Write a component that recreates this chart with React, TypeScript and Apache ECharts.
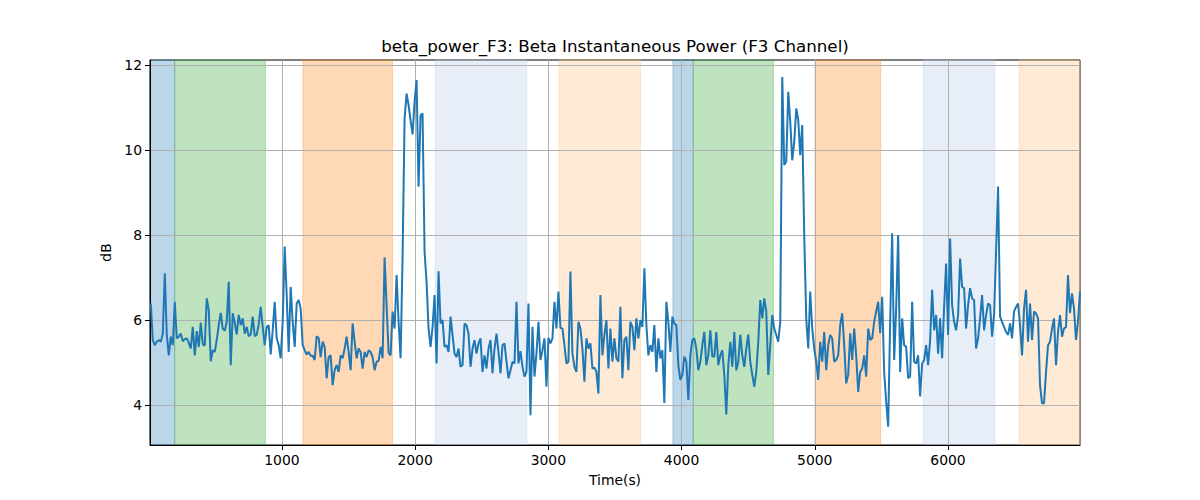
import React, { useEffect, useRef } from 'react';
import * as echarts from 'echarts';

// sampling grid of the beta power trace (seconds)
const SAMPLE_START = 16;
const SAMPLE_STEP = 15;

// beta power in dB, read left to right in chunks
const powerA = [6.39, 5.53, 5.41, 5.49, 5.53, 5.49, 5.68, 7.1, 5.65, 5.17, 5.61, 5.41, 6.43, 5.57, 5.61, 5.68, 5.5, 5.55, 5.57, 5.47, 5.33, 5.84, 5.17, 5.74, 5.37, 5.94, 5.43, 5.4, 6.51, 6.24, 5.03, 5.29, 5.25, 5.53, 5.88, 6.17, 5.8, 5.75, 5.96, 6.9, 4.94, 6.16, 5.94, 5.66, 6.12, 5.88, 6.04, 5.68, 5.84, 5.62, 5.66, 6.08, 5.62];
const powerB = [5.65, 5.9, 6.31, 5.84, 5.41, 5.84, 5.88, 5.19, 5.76, 6.43, 5.57, 5.41, 5.1, 5.96, 7.73, 6.59, 5.25, 6.78, 5.96, 5.37, 6.39, 6.47, 6.27, 5.41, 5.29, 5.19, 5.25, 5.16, 5.16, 5.06, 5.62, 5.58, 5.13, 5.49, 5.37, 4.63, 5.13, 5.17, 4.47, 4.82, 4.94, 4.78, 5.17, 5.1, 5.33, 5.61, 5.25, 4.82, 5.92, 5.49, 5.1, 5.33, 5.25, 4.86];
const powerC = [5.25, 5.13, 5.29, 5.25, 5.13, 4.82, 5.02, 5.04, 5.37, 5.1, 7.47, 6.35, 5.23, 5.17, 6.2, 5.8, 7.06, 5.96, 5.1, 7.5, 10.74, 11.33, 11.06, 10.7, 10.37, 11.14, 11.65, 9.14, 10.82, 10.86, 7.61, 6.9, 5.8, 5.37, 5.84, 6.59, 4.98, 7.15, 5.92, 6.0, 5.37, 5.41, 5.25, 6.08, 5.65, 5.21, 5.13, 5.33, 4.9, 4.94, 5.92, 5.88, 5.68];
const powerD = [4.9, 5.33, 5.53, 5.21, 5.45, 5.57, 4.78, 5.17, 4.86, 5.33, 5.53, 4.75, 5.33, 5.68, 5.25, 4.75, 5.41, 5.45, 5.02, 4.63, 4.82, 5.02, 4.98, 6.43, 4.98, 5.27, 4.9, 4.67, 4.78, 6.39, 3.76, 5.84, 4.67, 5.21, 5.96, 5.06, 5.29, 5.57, 4.43, 5.58, 5.45, 5.57, 6.43, 5.8, 6.67, 5.82, 5.8, 5.41, 4.98, 5.02, 7.14, 5.21, 4.9];
const powerE = [4.78, 5.96, 5.8, 5.33, 4.55, 5.57, 5.33, 5.45, 4.86, 4.88, 4.78, 4.27, 6.59, 5.17, 5.65, 6.0, 4.86, 5.8, 5.02, 5.57, 5.1, 5.02, 6.31, 4.63, 5.53, 5.61, 4.82, 5.96, 5.84, 5.29, 6.04, 5.57, 6.0, 5.84, 7.22, 5.88, 5.17, 5.41, 5.25, 5.88, 4.78, 5.57, 5.1, 5.29, 4.05, 6.43, 5.96, 5.25, 6.08, 5.92, 5.88, 4.94, 4.59];
const powerF = [4.71, 5.14, 5.02, 4.12, 5.17, 5.53, 5.57, 5.33, 4.82, 5.02, 5.41, 5.72, 4.94, 5.17, 5.76, 5.14, 5.14, 5.72, 4.94, 5.17, 5.29, 4.71, 3.78, 4.94, 5.49, 4.9, 5.72, 4.82, 5.02, 5.65, 5.17, 4.9, 5.33, 5.66, 5.02, 4.71, 4.43, 4.78, 5.49, 6.47, 6.04, 6.51, 6.2, 4.71, 5.41, 6.12, 5.8, 5.65, 5.49, 5.96, 11.72, 9.65, 9.73];
const powerG = [11.37, 10.67, 9.76, 10.2, 10.98, 10.71, 9.88, 10.59, 8.0, 6.04, 5.33, 6.67, 5.8, 5.33, 5.02, 4.59, 5.49, 5.02, 5.72, 4.82, 5.41, 5.65, 5.57, 5.02, 5.06, 5.17, 5.88, 6.16, 5.41, 4.51, 4.71, 5.69, 5.06, 5.8, 5.17, 4.31, 4.78, 4.86, 5.17, 4.67, 5.8, 5.53, 5.57, 5.96, 6.2, 6.43, 5.69, 6.55, 4.78, 4.08, 3.49, 5.96, 8.04];
const powerH = [5.06, 6.27, 8.0, 4.78, 6.04, 5.41, 5.37, 4.63, 4.67, 6.43, 5.02, 4.98, 5.17, 4.2, 4.98, 5.06, 5.41, 4.94, 5.53, 6.71, 5.76, 6.12, 5.21, 6.04, 5.1, 6.31, 7.33, 5.65, 7.92, 6.35, 5.96, 5.76, 6.12, 7.45, 6.78, 6.75, 5.8, 6.35, 6.75, 6.51, 6.47, 5.33, 5.57, 6.04, 6.59, 5.76, 6.12, 6.39, 6.35, 5.61, 6.12, 7.61, 9.14];
const powerI = [6.08, 5.96, 5.84, 5.72, 5.65, 5.92, 5.57, 6.2, 6.31, 6.39, 5.88, 5.17, 6.27, 6.71, 5.49, 6.39, 5.53, 6.2, 6.16, 6.04, 4.47, 4.04, 4.04, 4.78, 5.41, 5.49, 5.8, 6.04, 4.94, 5.72, 6.12, 5.61, 5.8, 5.84, 7.06, 6.16, 6.63, 6.27, 5.53, 5.96, 6.67];

// shaded spans (seconds)
const bandStart = [10, 195, 1158, 2150, 3080, 3935, 4088, 5001, 5814, 6533];
const bandEnd = [195, 876, 1830, 2838, 3692, 4088, 4690, 5495, 6353, 6991];
const bandKind = ['blue', 'green', 'orange', 'lightblue', 'lightorange', 'blue', 'green', 'orange', 'lightblue', 'lightorange'];

const yTicks = [4, 6, 8, 10, 12];
const xTicks = [1000, 2000, 3000, 4000, 5000, 6000];

const BAND_COLORS: Record<string, string> = {
  blue: 'rgba(31,119,180,0.3)',
  green: 'rgba(44,160,44,0.3)',
  orange: 'rgba(255,127,14,0.3)',
  lightblue: 'rgba(174,199,232,0.3)',
  lightorange: 'rgba(255,187,120,0.3)',
};

const FONT = 'DejaVu Sans';
const TITLE = 'beta_power_F3: Beta Instantaneous Power (F3 Channel)';

const betaPower = [...powerA, ...powerB, ...powerC, ...powerD, ...powerE, ...powerF, ...powerG, ...powerH, ...powerI];
const times = betaPower.map((_, i) => SAMPLE_START + i * SAMPLE_STEP);

const isTick = (v: number, list: number[]) => list.some((t) => Math.abs(t - v) < 1e-6);

export default function App() {
  const ref = useRef<HTMLDivElement>(null);

  useEffect(() => {
    if (!ref.current) return;
    const chart = echarts.init(ref.current, null, { renderer: 'svg' });
    chart.setOption({
      animation: false,
      backgroundColor: '#fff',
      textStyle: { fontFamily: FONT },
      grid: { left: 150, right: 120, top: 60, bottom: 55, show: true, borderColor: '#000', borderWidth: 1, backgroundColor: 'transparent' },
      graphic: [{
        type: 'text',
        x: 615,
        y: 46,
        style: { text: TITLE, fill: '#000', fontSize: 16.7, fontFamily: FONT, align: 'center', verticalAlign: 'middle', textAlign: 'center', textVerticalAlign: 'middle' },
      }],
      xAxis: {
        type: 'value',
        min: 10,
        max: 6991,
        z: 2,
        name: 'Time(s)',
        nameLocation: 'middle',
        nameGap: 28,
        nameTextStyle: { color: '#000', fontSize: 13.9, fontFamily: FONT },
        axisLine: { show: true, lineStyle: { color: '#000', width: 1 } },
        axisTick: { show: true, length: 5, lineStyle: { color: '#000' }, customValues: xTicks },
        axisLabel: { color: '#000', fontSize: 13.9, margin: 8, customValues: xTicks, formatter: (v: number) => (isTick(v, xTicks) ? String(v) : '') },
        splitLine: { show: true, lineStyle: { color: '#b0b0b0', width: 1 } },
      },
      yAxis: {
        type: 'value',
        min: 3.06,
        max: 12.12,
        z: 2,
        name: 'dB',
        nameLocation: 'middle',
        nameGap: 31,
        nameRotate: 90,
        nameTextStyle: { color: '#000', fontSize: 13.9, fontFamily: FONT },
        axisLine: { show: true, lineStyle: { color: '#000', width: 1 } },
        axisTick: { show: true, length: 5, lineStyle: { color: '#000' }, customValues: yTicks },
        axisLabel: { color: '#000', fontSize: 13.9, margin: 8, customValues: yTicks, formatter: (v: number) => (isTick(v, yTicks) ? String(v) : '') },
        splitLine: { show: true, lineStyle: { color: '#b0b0b0', width: 1 } },
      },
      series: [{
        type: 'line',
        data: times.map((t, i) => [t, betaPower[i]]),
        showSymbol: false,
        symbol: 'none',
        lineStyle: { color: '#1f77b4', width: 2 },
        itemStyle: { color: '#1f77b4' },
        z: 3,
        clip: true,
        markArea: {
          silent: true,
          z: 1,
          data: bandStart.map((s, i) => [
            { xAxis: s, itemStyle: { color: BAND_COLORS[bandKind[i]], borderColor: BAND_COLORS[bandKind[i]], borderWidth: 1 } },
            { xAxis: bandEnd[i] },
          ]),
        },
      }],
    });
    return () => chart.dispose();
  }, []);

  return <div ref={ref} style={{ position: 'fixed', left: 0, top: 0, width: 1200, height: 500 }} />;
}
